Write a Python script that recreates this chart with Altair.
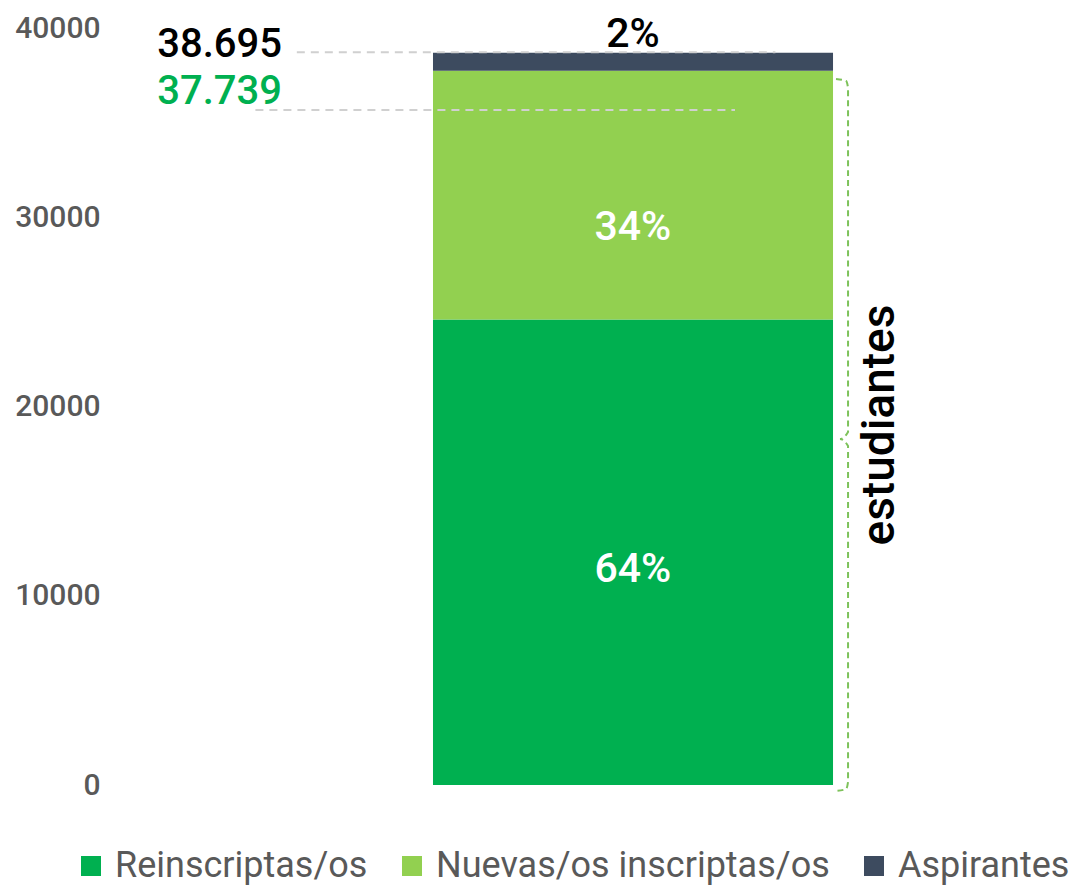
import altair as alt
import pandas as pd

# ---- data ----
series = ["Reinscriptas/os", "Nuevas/os inscriptas/os", "Aspirantes"]
valores = [24600, 13139, 956]
colores = ["#00B050", "#92D050", "#3D4B5F"]

porcentajes = ["64%", "34%", "2%"]
pct_y = [11360, 29430, 39630]
pct_color = ["#FFFFFF", "#FFFFFF", "#000000"]

totales = ["38.695", "37.739"]
total_y = [39100, 36620]
total_color = ["#000000", "#00B050"]

guia_y = [38720, 35670]
guia_x0 = [19.4, 15.1]
guia_x1 = [69.1, 64.9]

# bracket (curly brace) outline points, in chart units
llave_x = [75.39, 76.43, 76.64, 76.64, 75.8, 76.64, 76.64, 76.43, 75.39]
llave_y = [37305, 37199, 36830, 18653, 18283, 17913, 159, -211, -317]

y_ticks = [0, 10000, 20000, 30000, 40000]

FONT = "Roboto"
GRAY = "#595959"

# ---- tables ----
fin = pd.Series(valores).cumsum()
df_bar = pd.DataFrame({"serie": series, "inicio": fin - pd.Series(valores), "fin": fin})
df_pct = pd.DataFrame({"t": porcentajes, "y": pct_y, "c": pct_color, "x": [54.3] * 3})
df_tot = pd.DataFrame({"t": totales, "y": total_y, "c": total_color, "x": [4.9] * 2})
df_guia = pd.DataFrame({"y": guia_y, "x0": guia_x0, "x1": guia_x1})
df_llave = pd.DataFrame({"x": llave_x, "y": llave_y, "o": list(range(len(llave_x)))})
df_lbl = pd.DataFrame({"t": ["estudiantes"], "x": [80.0], "y": [19020]})

xs = alt.Scale(domain=[0, 100])
ys = alt.Scale(domain=[0, 40000])

bars = alt.Chart(df_bar).mark_bar().encode(
    x=alt.X(datum=33.54, type="quantitative", scale=xs, axis=None),
    x2=alt.X2(datum=75.08),
    y=alt.Y("inicio:Q", scale=ys, title=None,
            axis=alt.Axis(values=y_ticks, grid=False, domain=False, ticks=False,
                          labelFontSize=30, labelColor=GRAY, labelFont=FONT,
                          labelFontWeight=500, labelPadding=10, format="d")),
    y2="fin:Q",
    color=alt.Color("serie:N", scale=alt.Scale(domain=series, range=colores),
                    legend=alt.Legend(orient="none", legendX=-37, legendY=820,
                                      direction="horizontal", title=None,
                                      symbolType="square", symbolSize=400,
                                      symbolStrokeWidth=0,
                                      labelFontSize=36, labelFont=FONT, labelColor=GRAY,
                                      labelBaseline="middle", columnPadding=26,
                                      labelOffset=6, padding=0, labelLimit=500)),
)

guias = alt.Chart(df_guia).mark_rule(color="#D0D0D0", strokeWidth=2, strokeDash=[8, 6]).encode(
    x=alt.X("x0:Q", scale=xs), x2="x1:Q", y=alt.Y("y:Q", scale=ys)
)

llave = alt.Chart(df_llave).mark_line(color="#7DC25A", strokeWidth=2, strokeDash=[6, 4],
                                       interpolate="monotone", clip=False).encode(
    x=alt.X("x:Q", scale=xs), y=alt.Y("y:Q", scale=ys), order="o:Q"
)

pct = alt.Chart(df_pct).mark_text(font=FONT, fontSize=41, fontWeight=500, baseline="middle",
                                  align="center").encode(
    x=alt.X("x:Q", scale=xs), y=alt.Y("y:Q", scale=ys), text="t:N",
    color=alt.Color("c:N", scale=None)
)

tot = alt.Chart(df_tot).mark_text(font=FONT, fontSize=40, fontWeight=500, baseline="middle",
                                  align="left").encode(
    x=alt.X("x:Q", scale=xs), y=alt.Y("y:Q", scale=ys), text="t:N",
    color=alt.Color("c:N", scale=None)
)

lbl = alt.Chart(df_lbl).mark_text(font=FONT, fontSize=46, fontWeight=500, baseline="middle",
                                  align="center", angle=270, color="#000000").encode(
    x=alt.X("x:Q", scale=xs), y=alt.Y("y:Q", scale=ys), text="t:N"
)

chart = alt.layer(bars, guias, llave, pct, tot, lbl).properties(
    width=963, height=757,
    autosize=alt.AutoSizeParams(type="none"),
    padding={"left": 102, "top": 20, "right": 0, "bottom": 100},
).configure_view(stroke=None)

chart.save("out.html", embed_options={"renderer": "svg", "actions": False})
